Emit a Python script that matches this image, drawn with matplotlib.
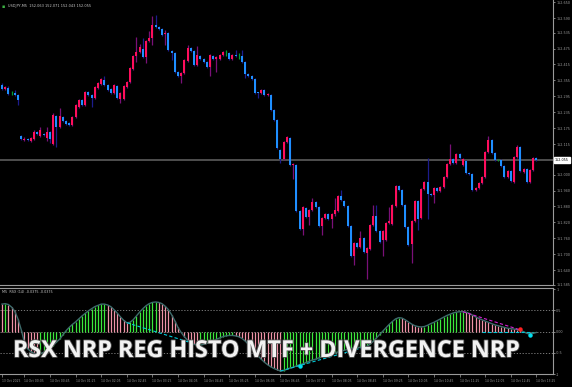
import numpy as np
import matplotlib.pyplot as plt
import matplotlib.patheffects as pe

# ---- price data (USDJPY M5), one entry per bar ----
opens = [152.338, 152.322, 152.326, 152.307, 152.307, 152.300, 152.145, 152.130, 152.134, 152.126,
         152.134, 152.160, 152.145, 152.153, 152.138, 152.160, 152.115, 152.221, 152.179, 152.217,
         152.202, 152.194, 152.187, 152.217, 152.255, 152.281, 152.262, 152.311, 152.300, 152.289,
         152.326, 152.341, 152.356, 152.338, 152.322, 152.307, 152.334, 152.285, 152.285, 152.330,
         152.349, 152.398, 152.447, 152.462, 152.473, 152.443, 152.503, 152.515, 152.564, 152.556,
         152.549, 152.530, 152.534, 152.466, 152.458, 152.387, 152.372, 152.383, 152.428, 152.477,
         152.466, 152.413, 152.447, 152.436, 152.424, 152.405, 152.447, 152.436, 152.436, 152.451,
         152.458, 152.458, 152.436, 152.451, 152.451, 152.447, 152.424, 152.379, 152.372, 152.360,
         152.311, 152.307, 152.319, 152.300, 152.300, 152.243, 152.206, 152.093, 152.059, 152.123,
         152.138, 152.036, 152.036, 151.863, 151.795, 151.874, 151.840, 151.866, 151.897, 151.878,
         151.806, 151.836, 151.851, 151.832, 151.851, 151.863, 151.919, 151.900, 151.881, 151.806,
         151.693, 151.742, 151.727, 151.761, 151.704, 151.719, 151.810, 151.844, 151.787, 151.753,
         151.753, 151.817, 151.814, 151.881, 151.957, 151.942, 151.885, 151.802, 151.738, 151.825,
         151.900, 151.836, 151.946, 151.972, 151.927, 151.923, 151.949, 151.938, 151.953, 151.991,
         152.040, 152.059, 152.044, 152.077, 152.036, 152.051, 152.006, 152.002, 151.942, 151.949,
         151.968, 151.991, 152.085, 152.130, 152.081, 152.055, 152.055, 152.032, 151.991, 152.013,
         151.972, 152.066, 152.104, 152.010, 152.021, 151.972, 152.017, 152.062]
highs = [152.345, 152.334, 152.334, 152.315, 152.319, 152.304, 152.149, 152.142, 152.138, 152.142,
         152.168, 152.164, 152.179, 152.157, 152.179, 152.164, 152.232, 152.224, 152.251, 152.221,
         152.206, 152.198, 152.221, 152.266, 152.285, 152.285, 152.315, 152.315, 152.304, 152.334,
         152.349, 152.364, 152.372, 152.341, 152.326, 152.341, 152.338, 152.311, 152.338, 152.353,
         152.405, 152.451, 152.519, 152.492, 152.515, 152.507, 152.541, 152.598, 152.601, 152.560,
         152.552, 152.545, 152.537, 152.470, 152.462, 152.390, 152.387, 152.436, 152.488, 152.481,
         152.470, 152.485, 152.451, 152.439, 152.428, 152.454, 152.451, 152.447, 152.454, 152.466,
         152.470, 152.462, 152.454, 152.470, 152.458, 152.470, 152.428, 152.383, 152.375, 152.364,
         152.311, 152.322, 152.322, 152.307, 152.304, 152.247, 152.209, 152.096, 152.126, 152.145,
         152.142, 152.044, 152.040, 151.866, 151.881, 151.878, 151.870, 151.912, 151.900, 151.881,
         151.840, 151.855, 151.855, 151.855, 151.912, 151.923, 151.942, 151.904, 151.885, 151.810,
         151.746, 151.746, 151.787, 151.765, 151.727, 151.814, 151.885, 151.885, 151.791, 151.791,
         151.821, 151.878, 151.889, 151.961, 151.961, 151.946, 151.889, 151.806, 151.829, 151.904,
         151.904, 151.949, 151.976, 152.062, 151.930, 151.953, 151.953, 151.957, 151.995, 152.044,
         152.115, 152.062, 152.081, 152.081, 152.062, 152.055, 152.010, 152.006, 151.953, 151.972,
         151.995, 152.089, 152.145, 152.134, 152.085, 152.059, 152.059, 152.036, 152.017, 152.017,
         152.070, 152.111, 152.108, 152.025, 152.025, 152.021, 152.066, 152.066]
lows = [152.319, 152.319, 152.300, 152.300, 152.296, 152.262, 152.130, 152.126, 152.126, 152.123,
        152.130, 152.149, 152.142, 152.145, 152.126, 152.119, 152.111, 152.104, 152.175, 152.198,
        152.187, 152.183, 152.183, 152.213, 152.251, 152.258, 152.258, 152.296, 152.255, 152.285,
        152.322, 152.338, 152.334, 152.315, 152.304, 152.304, 152.285, 152.270, 152.281, 152.326,
        152.345, 152.394, 152.424, 152.458, 152.439, 152.421, 152.500, 152.488, 152.552, 152.545,
        152.522, 152.488, 152.466, 152.432, 152.383, 152.368, 152.345, 152.379, 152.424, 152.462,
        152.409, 152.409, 152.432, 152.421, 152.402, 152.372, 152.432, 152.387, 152.432, 152.447,
        152.447, 152.432, 152.432, 152.443, 152.436, 152.421, 152.364, 152.368, 152.356, 152.304,
        152.289, 152.304, 152.296, 152.296, 152.240, 152.202, 152.096, 152.044, 152.055, 152.119,
        152.032, 151.983, 151.859, 151.791, 151.772, 151.836, 151.810, 151.863, 151.874, 151.802,
        151.772, 151.832, 151.829, 151.798, 151.844, 151.859, 151.900, 151.878, 151.802, 151.689,
        151.659, 151.723, 151.723, 151.704, 151.606, 151.716, 151.806, 151.783, 151.742, 151.693,
        151.749, 151.814, 151.810, 151.878, 151.938, 151.881, 151.798, 151.731, 151.667, 151.821,
        151.791, 151.832, 151.942, 151.832, 151.919, 151.893, 151.934, 151.934, 151.949, 151.987,
        152.036, 152.040, 152.040, 152.059, 152.032, 152.002, 151.998, 151.938, 151.938, 151.946,
        151.964, 151.987, 152.081, 152.077, 152.051, 152.051, 152.028, 151.987, 151.987, 151.972,
        151.968, 152.062, 152.010, 152.006, 151.968, 151.968, 152.013, 152.051]
closes = [152.322, 152.330, 152.304, 152.307, 152.300, 152.281, 152.134, 152.134, 152.130, 152.138,
          152.160, 152.153, 152.168, 152.149, 152.160, 152.134, 152.224, 152.179, 152.221, 152.202,
          152.191, 152.187, 152.217, 152.262, 152.281, 152.262, 152.311, 152.300, 152.289, 152.330,
          152.345, 152.360, 152.338, 152.319, 152.307, 152.338, 152.289, 152.307, 152.334, 152.349,
          152.402, 152.447, 152.462, 152.481, 152.443, 152.503, 152.515, 152.564, 152.556, 152.549,
          152.526, 152.534, 152.470, 152.458, 152.387, 152.372, 152.383, 152.432, 152.477, 152.466,
          152.413, 152.451, 152.436, 152.424, 152.405, 152.451, 152.436, 152.443, 152.451, 152.462,
          152.458, 152.436, 152.451, 152.447, 152.451, 152.424, 152.379, 152.372, 152.360, 152.307,
          152.307, 152.319, 152.300, 152.304, 152.243, 152.206, 152.100, 152.059, 152.123, 152.142,
          152.036, 152.040, 151.863, 151.795, 151.878, 151.840, 151.866, 151.897, 151.878, 151.806,
          151.836, 151.851, 151.832, 151.851, 151.866, 151.919, 151.904, 151.881, 151.806, 151.693,
          151.742, 151.727, 151.761, 151.708, 151.723, 151.810, 151.844, 151.787, 151.746, 151.787,
          151.817, 151.825, 151.885, 151.957, 151.942, 151.885, 151.802, 151.734, 151.825, 151.900,
          151.832, 151.946, 151.972, 151.927, 151.923, 151.949, 151.938, 151.953, 151.991, 152.040,
          152.059, 152.044, 152.077, 152.062, 152.059, 152.006, 152.002, 151.942, 151.949, 151.968,
          151.991, 152.085, 152.130, 152.081, 152.055, 152.055, 152.032, 151.991, 152.013, 151.976,
          152.066, 152.104, 152.013, 152.021, 151.972, 152.017, 152.062, 152.055]

# ---- RSX histogram values (-1..1) ----
rsx = [0.65, 0.66, 0.64, 0.58, 0.48, 0.30, 0.05, -0.25, -0.40, -0.47,
       -0.51, -0.53, -0.52, -0.49, -0.44, -0.40, -0.33, -0.25, -0.18, -0.08,
       0.02, 0.10, 0.17, 0.23, 0.30, 0.37, 0.43, 0.49, 0.54, 0.59,
       0.62, 0.65, 0.65, 0.63, 0.59, 0.52, 0.44, 0.35, 0.27, 0.21,
       0.22, 0.28, 0.37, 0.46, 0.54, 0.61, 0.66, 0.69, 0.70, 0.69,
       0.66, 0.60, 0.52, 0.40, 0.26, 0.10, -0.02, -0.12, -0.20, -0.26,
       -0.30, -0.32, -0.32, -0.30, -0.28, -0.25, -0.22, -0.18, -0.15, -0.12,
       -0.10, -0.09, -0.09, -0.10, -0.12, -0.16, -0.22, -0.30, -0.38, -0.48,
       -0.57, -0.65, -0.72, -0.78, -0.83, -0.87, -0.90, -0.93, -0.92, -0.89,
       -0.86, -0.84, -0.81, -0.78, -0.76, -0.73, -0.70, -0.67, -0.65, -0.62,
       -0.60, -0.57, -0.55, -0.52, -0.50, -0.48, -0.46, -0.44, -0.42, -0.40,
       -0.39, -0.38, -0.37, -0.36, -0.35, -0.30, -0.23, -0.15, -0.07, 0.01,
       0.09, 0.17, 0.24, 0.30, 0.33, 0.32, 0.28, 0.23, 0.18, 0.14,
       0.12, 0.11, 0.12, 0.15, 0.19, 0.22, 0.26, 0.30, 0.34, 0.38,
       0.41, 0.44, 0.46, 0.47, 0.47, 0.46, 0.43, 0.39, 0.35, 0.31,
       0.28, 0.25, 0.22, 0.19, 0.16, 0.14, 0.12, 0.10, 0.08, 0.07,
       0.06, 0.05, 0.03, 0.00, -0.04, -0.06, -0.04, -0.02]

# divergence lines: (bar start, value start, bar end, value end, colour)
div_lines = [(39, 0.21, 59, -0.26, "#00c8d8"),
             (87, -0.93, 114, -0.35, "#00c8d8"),
             (144, 0.47, 162, 0.04, "#d020d0"),
             (150, -0.02, 166, -0.02, "#00c8d8")]
div_marks = [(93, -0.80, "#00e0f0"), (162, 0.06, "#ff2020"), (165, -0.08, "#00e0f0")]

price_ticks = [152.650, 152.590, 152.535, 152.475, 152.415, 152.355, 152.295, 152.235, 152.175,
               152.115, 152.000, 151.940, 151.880, 151.820, 151.760, 151.700, 151.640, 151.585]
last_price = 152.055
time_bars = [0] + list(range(7, 168, 8))
time_labels = ["13 Oct 2025", "14 Oct 00:05", "14 Oct 00:45", "14 Oct 01:25", "14 Oct 02:05",
               "14 Oct 02:45", "14 Oct 03:25", "14 Oct 04:05", "14 Oct 04:45", "14 Oct 05:25",
               "14 Oct 06:05", "14 Oct 06:45", "14 Oct 07:25", "14 Oct 08:05", "14 Oct 08:45",
               "14 Oct 09:25", "14 Oct 10:05", "14 Oct 10:45", "14 Oct 11:25", "14 Oct 12:05",
               "14 Oct 12:45", "14 Oct 13:25"]

o = np.array(opens); h = np.array(highs); l = np.array(lows); c = np.array(closes)
x = np.arange(len(c))
v = np.array(rsx)

BG = "black"
GRID = "#9a9a9a"
UP, DN, DOJI = "#ff0e5c", "#1e8fff", "#00a030"

fig = plt.figure(figsize=(5.72, 3.87), dpi=100, facecolor=BG)
ax = fig.add_axes([0, 1 - 285 / 387, 553 / 572, 285 / 387], facecolor=BG)
ax2 = fig.add_axes([0, 1 - 374 / 387, 553 / 572, 86 / 387], facecolor=BG)

xlim = (-0.62, 172.2)

# candles
up = c > o
dn = c < o
body_col = np.where(up, UP, np.where(dn, DN, DOJI))
wick_col = np.where(up, "#7a1078", np.where(dn, "#1c1c8c", DOJI))
ax.vlines(x, l, h, colors=wick_col, linewidth=0.9, zorder=2)
bh = np.where(np.abs(c - o) < 0.002, 0.002, np.abs(c - o))
bb = np.where(np.abs(c - o) < 0.002, (o + c) / 2 - 0.001, np.minimum(o, c))
ax.bar(x, bh, bottom=bb, width=0.62, color=body_col, linewidth=0, zorder=3)

ax.axhline(last_price, color="#555555", linewidth=1.3, zorder=1)
ax.set_xlim(*xlim)
ax.set_ylim(151.584, 152.658)

ax.yaxis.tick_right()
ax.set_yticks(price_ticks)
ax.set_yticklabels([f"{t:.3f}" for t in price_ticks])
ax.tick_params(axis="y", colors=GRID, labelsize=2.4, length=1.5, width=0.6, pad=0.8, direction="out")
ax.tick_params(axis="x", bottom=False, labelbottom=False)
for s in ["top", "left"]:
    ax.spines[s].set_visible(False)
for s in ["right", "bottom"]:
    ax.spines[s].set_color(GRID)
    ax.spines[s].set_linewidth(0.8)

ax.text(1.003, (last_price - 151.584) / (152.658 - 151.584), f"{last_price:.3f}",
        transform=ax.transAxes, fontsize=2.4, color="black", va="center", ha="left",
        bbox=dict(boxstyle="square,pad=0.3", fc="white", ec="white"), clip_on=False, zorder=10)

fig.text(2 / 572, 1 - 6 / 387, "\u25aa", color="#3cb043", fontsize=3.5, va="center")
fig.text(8 / 572, 1 - 6 / 387, "USDJPY,M5  152.063 152.071 152.043 152.055",
         color="#c8c8c8", fontsize=2.5, va="center", ha="left")

# indicator panel
cols = ["#ef93a7" if i == 0 or v[i] < v[i - 1] else "#3ce83c" for i in range(len(v))]
ax2.vlines(x, 0, v, colors=cols, linewidth=0.9, zorder=2)
ax2.plot(x, v, color="#3d6b6b", linewidth=1.0, zorder=3)
for lvl in (0.5, 0.0, -0.5):
    ax2.axhline(lvl, color="#8a8a8a", linewidth=0.6, linestyle=(0, (1.5, 2)), zorder=1)
for b0, v0, b1, v1, col in div_lines:
    ax2.plot([b0, b1], [v0, v1], color=col, linewidth=0.8, linestyle=(0, (3, 2)), zorder=4)
for b, val, col in div_marks:
    ax2.plot(b, val, marker="o", markersize=2.2, color=col, zorder=5)

ax2.set_xlim(*xlim)
ax2.set_ylim(-1.0, 1.03)
ax2.yaxis.tick_right()
ax2.set_yticks([1, 0.5, 0, -0.5, -1])
ax2.set_yticklabels(["1", "0.5", "0.00", "-0.5", "-1"])
ax2.tick_params(axis="y", colors=GRID, labelsize=2.4, length=1.5, width=0.6, pad=0.8)
ax2.set_xticks(time_bars)
ax2.set_xticklabels(time_labels, ha="left")
ax2.tick_params(axis="x", colors=GRID, labelsize=2.2, length=2, width=0.5, pad=1.5)
ax2.spines["left"].set_visible(False)
for s in ["right", "bottom", "top"]:
    ax2.spines[s].set_color(GRID)
    ax2.spines[s].set_linewidth(0.8)

ax2.text(0.004, 0.975, "M5  RSX (14) -0.0375 -0.0375", transform=ax2.transAxes,
         fontsize=2.4, color="#c8c8c8", va="top", ha="left")

fig.text(13 / 572, 1 - 351 / 387, "RSX NRP REG HISTO MTF + DIVERGENCE NRP",
         fontsize=16.8, fontweight="bold", family="Open Sans", color="#f2f2f2",
         va="center", ha="left",
         path_effects=[pe.withStroke(linewidth=1.2, foreground="#555555")], zorder=20)

fig.savefig("out.png", dpi=100, facecolor=BG)
